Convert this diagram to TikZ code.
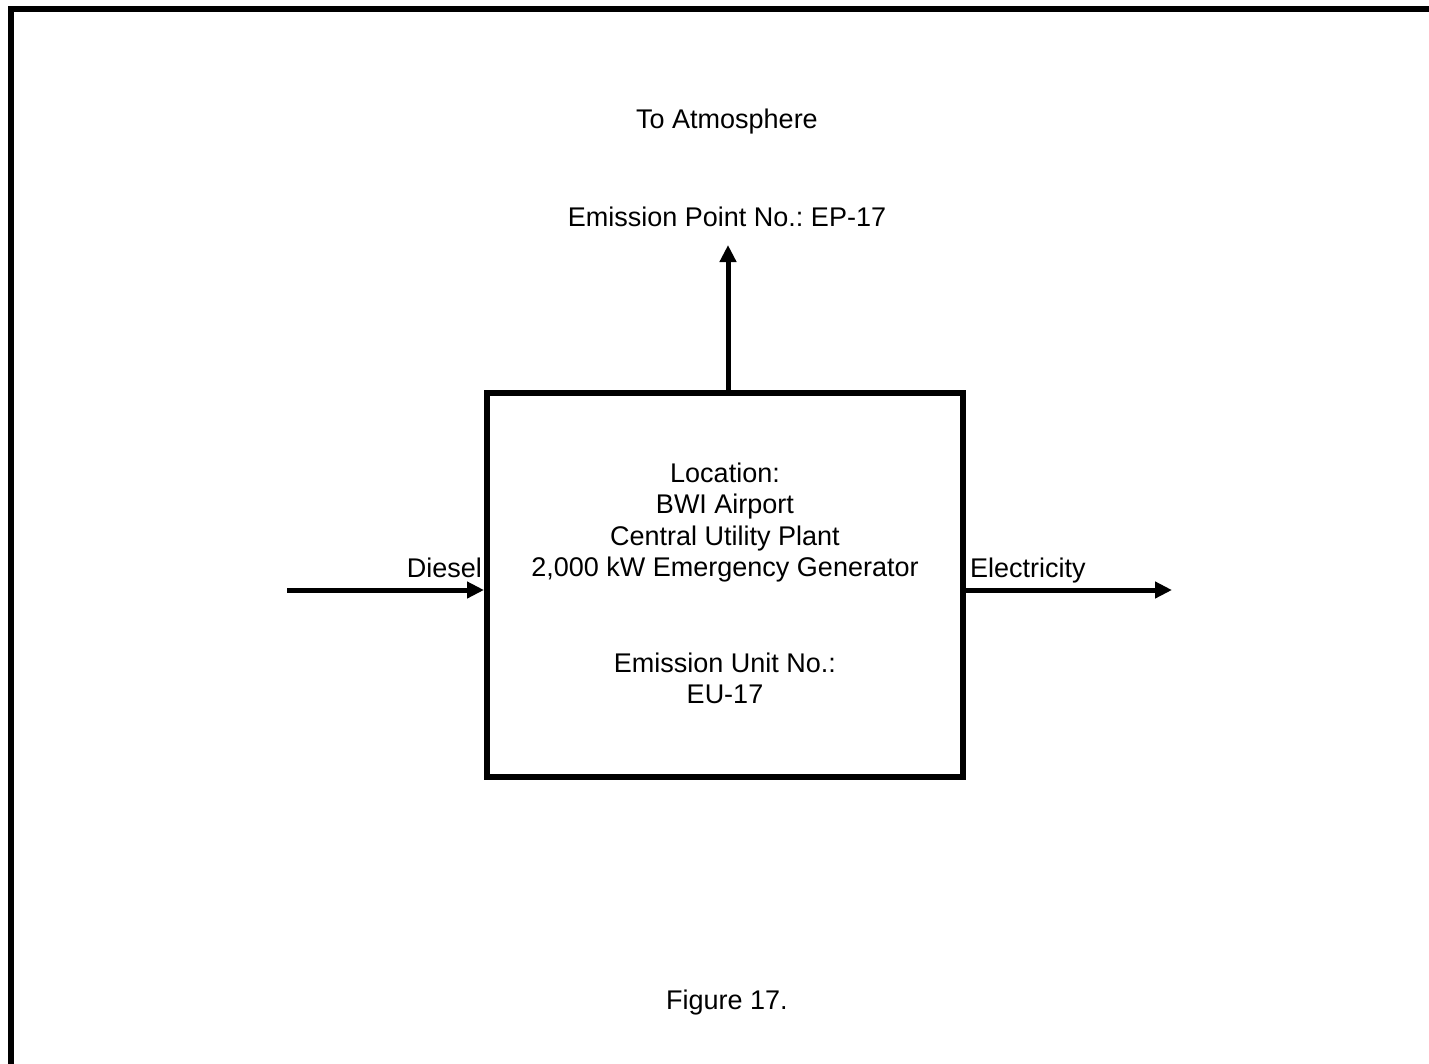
\documentclass[tikz,border=0pt]{standalone}
\usepackage{fontspec}
\setmainfont{Liberation Sans}
\usetikzlibrary{arrows.meta}
\frenchspacing
\begin{document}
\begin{tikzpicture}[x=1pt,y=-1pt,
  lbl/.style={font=\fontsize{27}{31.5}\selectfont\frenchspacing, inner sep=0pt, anchor=base},
  genbox/.style={draw, line width=6pt, minimum width=476pt, minimum height=384pt, inner sep=0pt},
  flow/.style={line width=5pt, -{Triangle[length=17pt,width=16pt]}},
  frame/.style={line width=6pt, line join=miter}
]
\useasboundingbox (0,0) rectangle (1429,1063);
\draw[frame] (11,1075) -- (11,9) -- (1440,9);
\node[genbox] (gen) at (725,585) {};
% texts
\node[lbl] (atm) at (727,128) {To Atmosphere};
\node[lbl] (ep) at (727,226) {Emission Point No.: EP-17};
\node[lbl] (l1) at (725,482) {Location:};
\node[lbl] (l2) at (725,513.5) {BWI Airport};
\node[lbl] (l3) at (725,545) {Central Utility Plant};
\node[lbl] (l4) at (725,576.5) {2,000 kW Emergency Generator};
\node[lbl] (u1) at (725,672) {Emission Unit No.:};
\node[lbl] (u2) at (725,703.5) {EU-17};
\node[lbl, anchor=base east] (diesel) at (482,577) {Diesel};
\node[lbl, anchor=base west] (elec) at (970,577) {Electricity};
\node[lbl] (fig) at (727,1009) {Figure 17.};
% connectors
\coordinate (eptip) at (728,245);
\coordinate (din) at (287,590);
\coordinate (eout) at (1172,590);
\draw[flow] (eptip |- gen.north) -- (eptip);
\draw[flow] (din) -- (din -| gen.west);
\draw[flow] (eout -| gen.east) -- (eout);
\end{tikzpicture}
\end{document}
